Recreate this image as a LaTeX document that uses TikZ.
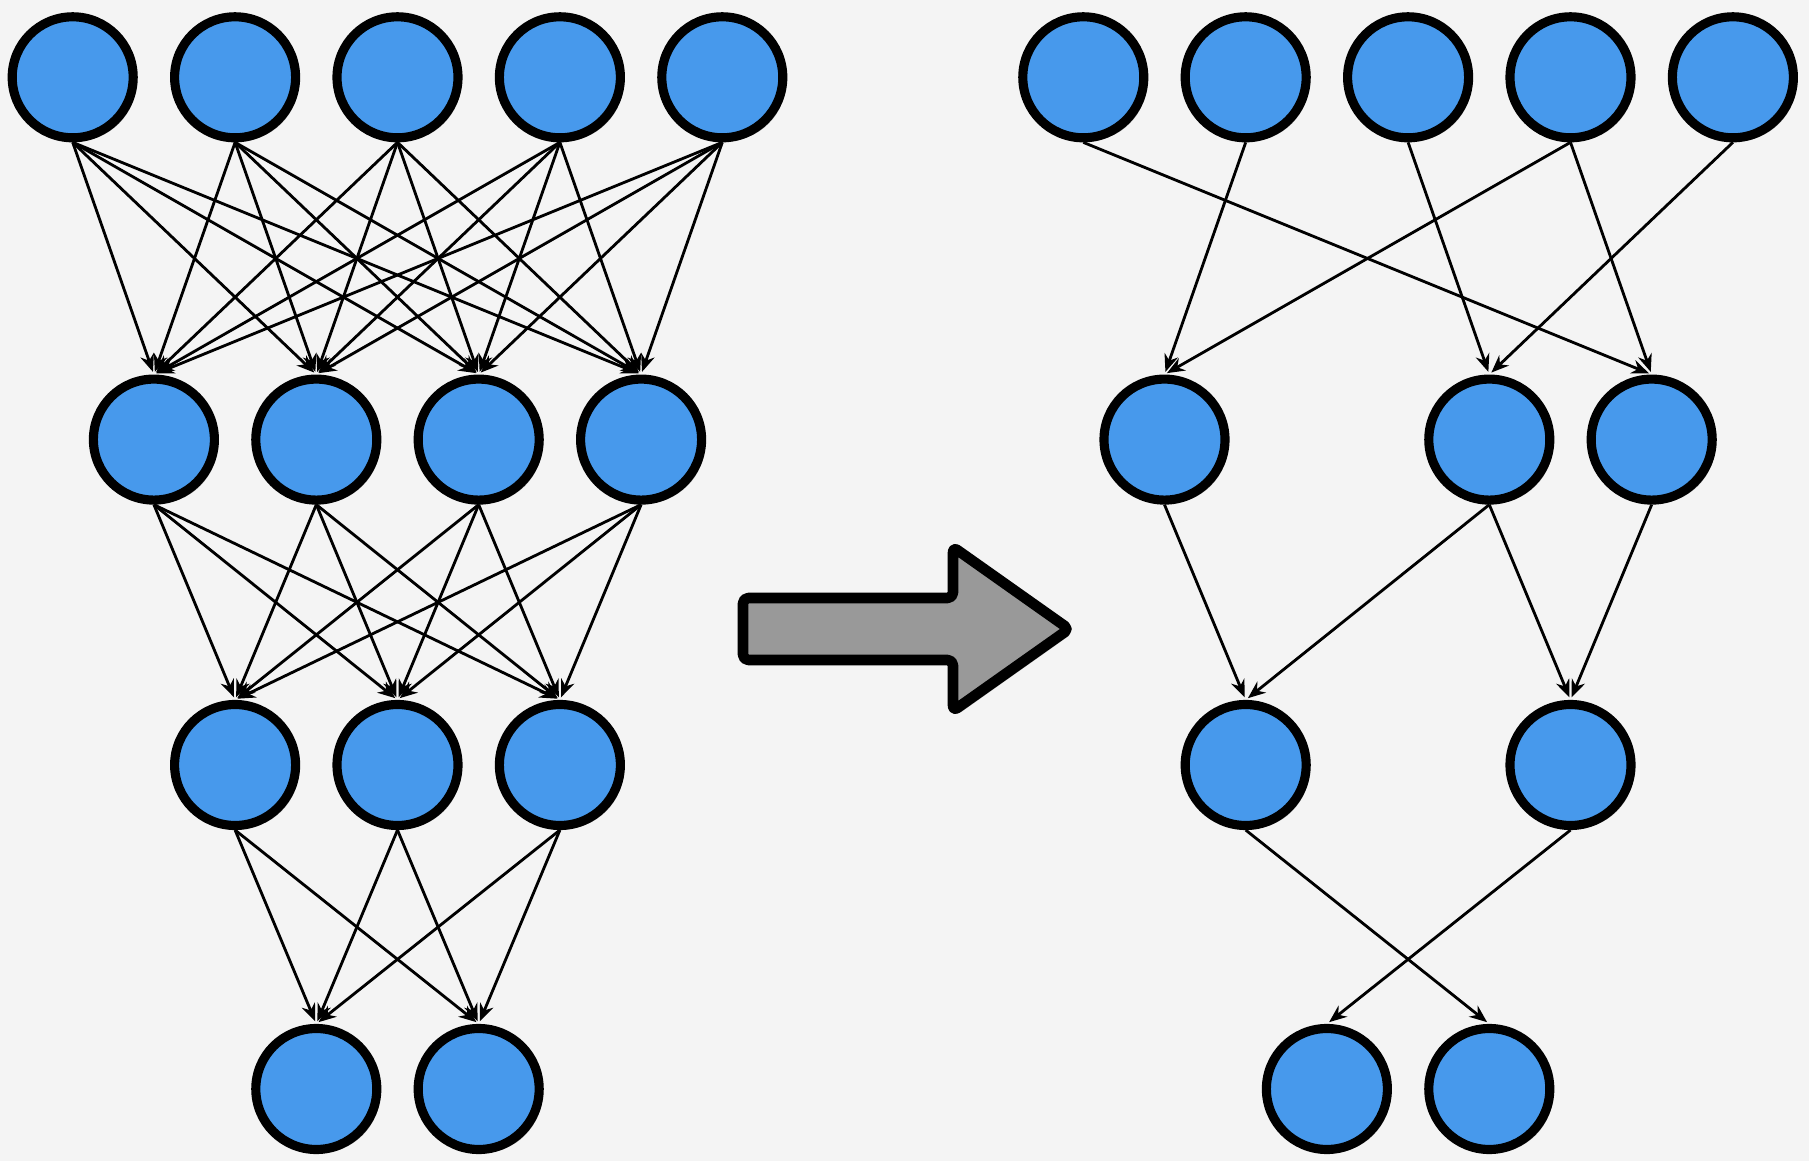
\documentclass[tikz,border=0pt]{standalone}
\usepackage{xcolor}
\usepackage{tikz}
\usetikzlibrary{arrows.meta,shadows}
\definecolor{neuron}{HTML}{4799EC}
\definecolor{backdrop}{HTML}{F4F4F4}

\begin{document}
\begin{tikzpicture}[x=1cm, y=-1cm,
		unit/.style={circle, draw=black, line width=2.6pt, fill=neuron, minimum size=1.21cm, inner sep=0pt,
			drop shadow={shadow xshift=0.035cm, shadow yshift=-0.035cm, opacity=0.35, fill=black}},
		link/.style={-{Stealth[length=5pt, width=4pt]}, line width=0.8pt, shorten >=0.8pt},
		bigarrow/.style={draw=black, line width=3pt, fill=black!40, line join=round, rounded corners=1.5pt,
			drop shadow={shadow xshift=0.04cm, shadow yshift=-0.04cm, opacity=0.3, fill=black}}]
		\fill[backdrop] (0,0) rectangle (18.09,11.61);
		% dense network
		\foreach \i in {1,...,5} \node[unit] (a\i) at ({0.727+(\i-1)*1.624}, 0.773) {};
		\foreach \i in {1,...,4} \node[unit] (b\i) at ({0.727+(\i-0.5)*1.624}, 4.396) {};
		\foreach \i in {1,...,3} \node[unit] (c\i) at ({0.727+\i*1.624}, 7.65) {};
		\foreach \i in {1,2} \node[unit] (d\i) at ({0.727+(\i+0.5)*1.624}, 10.89) {};
		\foreach \i in {1,...,5} \foreach \j in {1,...,4} \draw[link] (a\i.south) -- (b\j.north);
		\foreach \i in {1,...,4} \foreach \j in {1,...,3} \draw[link] (b\i.south) -- (c\j.north);
		\foreach \i in {1,...,3} \foreach \j in {1,2} \draw[link] (c\i.south) -- (d\j.north);
		% arrow
		\draw[bigarrow] (7.43,5.98) -- (9.53,5.98) -- (9.53,5.47) -- (10.69,6.29) -- (9.53,7.11) -- (9.53,6.60) -- (7.43,6.60) -- cycle;
		% pruned network
		\foreach \i in {1,...,5} \node[unit] (p\i) at ({10.833+(\i-1)*1.624}, 0.773) {};
		\foreach \i in {1,3,4} \node[unit] (q\i) at ({10.833+(\i-0.5)*1.624}, 4.396) {};
		\foreach \i in {1,3} \node[unit] (r\i) at ({10.833+\i*1.624}, 7.65) {};
		\foreach \i in {1,2} \node[unit] (s\i) at ({10.833+(\i+0.5)*1.624}, 10.89) {};
		\foreach \u/\v in {p1/q4, p2/q1, p3/q3, p4/q1, p4/q4, p5/q3, q1/r1, q3/r1, q3/r3, q4/r3, r1/s2, r3/s1}
			\draw[link] (\u.south) -- (\v.north);
	\end{tikzpicture}
\end{document}
